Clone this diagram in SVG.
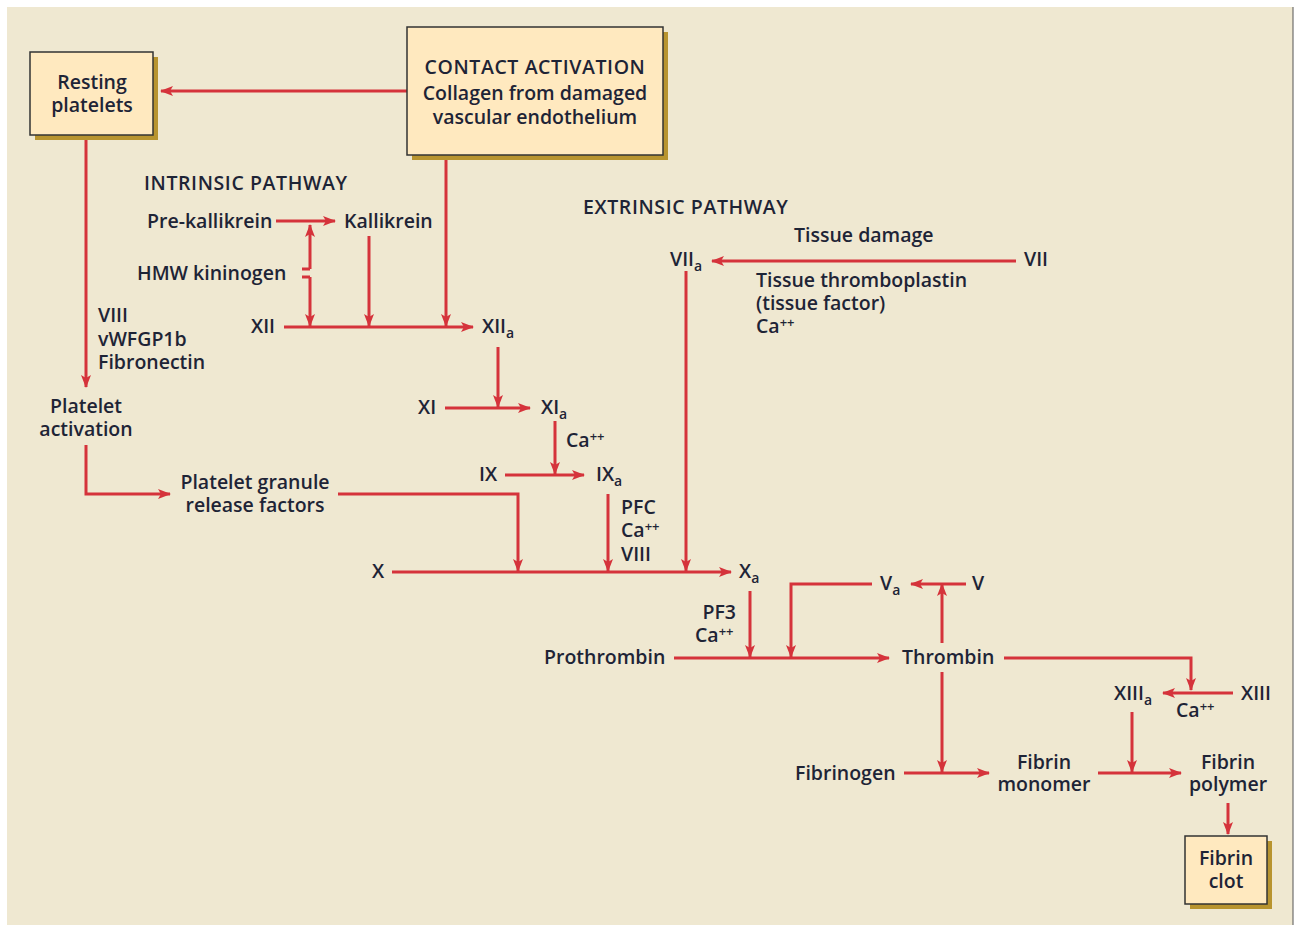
<svg xmlns="http://www.w3.org/2000/svg" width="1295" height="928" viewBox="0 0 1295 928">
<defs>
<marker id="ah" markerUnits="userSpaceOnUse" markerWidth="14" markerHeight="12" refX="12" refY="5" orient="auto">
<path d="M0,0 L13,5 L0,10 L3,5 z" fill="#D5333B"/>
</marker>
<style>
text{font-family:"Open Sans","Liberation Sans",sans-serif;font-weight:600;font-size:19.5px;fill:#1E2436}
.c{text-anchor:middle}
.r{text-anchor:end}
.caps{letter-spacing:0.6px}
.sub{font-size:14px}
.sup{font-size:13px}
.box{fill:#FFE9BF;stroke:#333;stroke-width:1.5}
.sh{fill:#B8942F}
.ln{fill:none;stroke:#D5333B;stroke-width:3}
.ar{fill:none;stroke:#D5333B;stroke-width:3;marker-end:url(#ah)}
</style>
</defs>
<rect x="0" y="0" width="1295" height="928" fill="#FFFFFF"/>
<rect x="7" y="7" width="1286" height="918" fill="#EFE8D1"/>
<line x1="1293" y1="7" x2="1293" y2="925" stroke="#555" stroke-width="1"/>

<g id="connectors">
<path class="ar" d="M407,91 H161"/>
<path class="ar" d="M446,156 V326"/>
<path class="ar" d="M86,139 V387"/>
<path class="ar" d="M276,221 H335"/>
<path class="ar" d="M310,269 V225"/>
<path class="ln" d="M310,269 H302"/>
<path class="ln" d="M302,277 H310"/>
<path class="ar" d="M310,277 V326"/>
<path class="ar" d="M369,236 V326"/>
<path class="ar" d="M284,327 H473"/>
<path class="ar" d="M86,445 V494 H170"/>
<path class="ar" d="M338,494 H518 V571"/>
<path class="ar" d="M498,347 V407"/>
<path class="ar" d="M445,408 H530"/>
<path class="ar" d="M555,421 V474"/>
<path class="ar" d="M505,475 H584"/>
<path class="ar" d="M608,494 V571"/>
<path class="ar" d="M686,271 V571"/>
<path class="ar" d="M1016,261 H712"/>
<path class="ar" d="M392,572 H731"/>
<path class="ar" d="M750,591 V657"/>
<path class="ar" d="M674,658 H889"/>
<path class="ar" d="M872,584 H791 V657"/>
<path class="ar" d="M966,584 H911"/>
<path class="ar" d="M942,643 V584"/>
<path class="ar" d="M1004,658 H1191 V690"/>
<path class="ar" d="M1233,693 H1163"/>
<path class="ar" d="M942,672 V772"/>
<path class="ar" d="M904,773 H989"/>
<path class="ar" d="M1098,773 H1181"/>
<path class="ar" d="M1132,712 V772"/>
<path class="ar" d="M1228,803 V834"/>
</g>

<g id="resting-platelets">
<rect class="sh" x="35" y="57" width="123" height="83"/>
<rect class="box" x="30" y="52" width="123" height="83"/>
<text class="c" x="92" y="89">Resting</text>
<text class="c" x="92" y="112">platelets</text>
</g>

<g id="contact-activation">
<rect class="sh" x="412" y="32" width="256" height="128"/>
<rect class="box" x="407" y="27" width="256" height="128"/>
<text class="c caps" x="535" y="74">CONTACT ACTIVATION</text>
<text class="c" x="535" y="100">Collagen from damaged</text>
<text class="c" x="535" y="124">vascular endothelium</text>
</g>

<g id="fibrin-clot">
<rect class="sh" x="1190" y="841" width="82" height="68"/>
<rect class="box" x="1185" y="836" width="82" height="68"/>
<text class="c" x="1226" y="865">Fibrin</text>
<text class="c" x="1226" y="888">clot</text>
</g>

<g id="labels-intrinsic">
<text class="caps" x="144" y="190">INTRINSIC PATHWAY</text>
<text x="147" y="228">Pre-kallikrein</text>
<text x="344" y="228">Kallikrein</text>
<text x="137" y="280">HMW kininogen</text>
<text x="251" y="333">XII</text>
<text x="482" y="333">XII<tspan class="sub" dy="5">a</tspan></text>
<text x="98" y="322">VIII</text>
<text x="98" y="346">vWFGP1b</text>
<text x="98" y="369">Fibronectin</text>
</g>

<g id="platelet-activation">
<text class="c" x="86" y="413">Platelet</text>
<text class="c" x="86" y="436">activation</text>
</g>

<g id="platelet-granule">
<text class="c" x="255" y="489">Platelet granule</text>
<text class="c" x="255" y="512">release factors</text>
</g>

<g id="factor-xi">
<text x="418" y="414">XI</text>
<text x="541" y="414">XI<tspan class="sub" dy="5">a</tspan></text>
<text x="566" y="447">Ca<tspan class="sup" dy="-6">++</tspan></text>
</g>

<g id="factor-ix">
<text x="479" y="481">IX</text>
<text x="596" y="481">IX<tspan class="sub" dy="5">a</tspan></text>
<text x="621" y="514">PFC</text>
<text x="621" y="537">Ca<tspan class="sup" dy="-6">++</tspan></text>
<text x="621" y="561">VIII</text>
</g>

<g id="labels-extrinsic">
<text class="caps" x="583" y="214">EXTRINSIC PATHWAY</text>
<text x="794" y="242">Tissue damage</text>
<text x="670" y="266">VII<tspan class="sub" dy="5">a</tspan></text>
<text x="1024" y="266">VII</text>
<text x="756" y="287">Tissue thromboplastin</text>
<text x="756" y="310">(tissue factor)</text>
<text x="756" y="333">Ca<tspan class="sup" dy="-6">++</tspan></text>
</g>

<g id="factor-x">
<text x="372" y="578">X</text>
<text x="739" y="578">X<tspan class="sub" dy="5">a</tspan></text>
<text class="r" x="736" y="619">PF3</text>
<text x="695" y="642">Ca<tspan class="sup" dy="-6">++</tspan></text>
</g>

<g id="prothrombin"><text x="544" y="664">Prothrombin</text></g>
<g id="factor-v">
<text x="880" y="590">V<tspan class="sub" dy="5">a</tspan></text>
<text x="972" y="590">V</text>
</g>
<g id="thrombin"><text x="902" y="664">Thrombin</text></g>
<g id="factor-xiii">
<text x="1114" y="700">XIII<tspan class="sub" dy="5">a</tspan></text>
<text x="1241" y="700">XIII</text>
<text x="1176" y="717">Ca<tspan class="sup" dy="-6">++</tspan></text>
</g>
<g id="fibrinogen"><text x="795" y="780">Fibrinogen</text></g>
<g id="fibrin-monomer">
<text class="c" x="1044" y="769">Fibrin</text>
<text class="c" x="1044" y="791">monomer</text>
</g>
<g id="fibrin-polymer">
<text class="c" x="1228" y="769">Fibrin</text>
<text class="c" x="1228" y="791">polymer</text>
</g>
</svg>
